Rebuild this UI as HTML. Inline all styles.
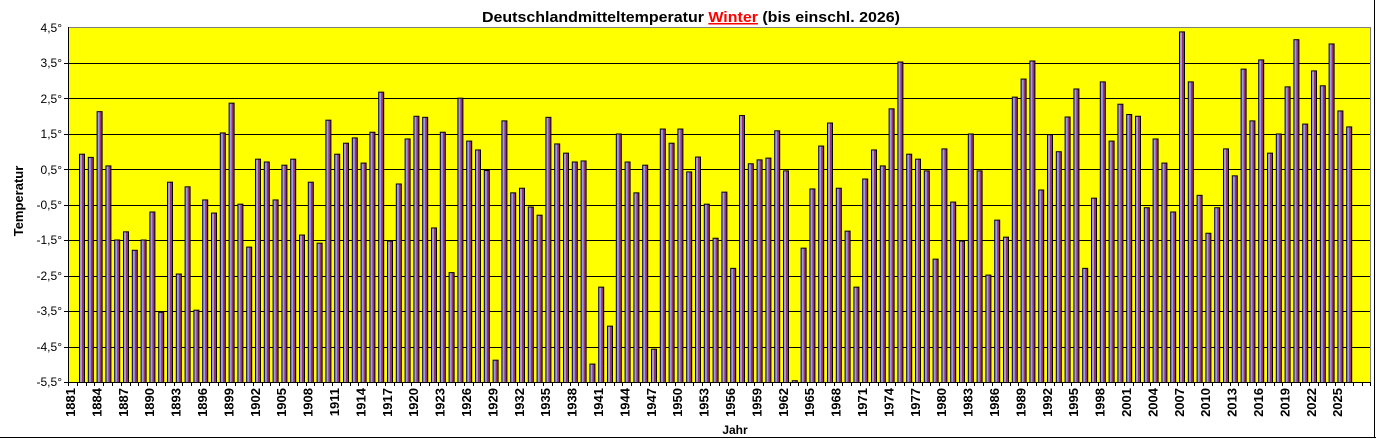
<!DOCTYPE html>
<html><head><meta charset="utf-8"><style>
html,body{margin:0;padding:0;background:#fff;}
svg{display:block;font-family:"Liberation Sans",Arial,sans-serif;}
</style></head><body>
<svg id="c" width="1376" height="439" viewBox="0 0 1376 439" xmlns="http://www.w3.org/2000/svg">
<defs><linearGradient id="g" x1="0" x2="1" y1="0" y2="0">
<stop offset="0" stop-color="#9999ff"/><stop offset="0.45" stop-color="#9999ff"/><stop offset="0.55" stop-color="#993366"/><stop offset="1" stop-color="#993366"/></linearGradient></defs>
<rect x="68" y="27" width="1302" height="355" fill="#ffff00"/>
<g id="grid" stroke="#000" stroke-width="1"></g>
<line x1="68" y1="27.5" x2="1370" y2="27.5" stroke="#808080"/>
<line x1="1370.5" y1="27" x2="1370.5" y2="382" stroke="#808080"/>
<g id="bars"></g>
<line x1="68.5" y1="27" x2="68.5" y2="382" stroke="#000"/>
<line x1="64" y1="382.5" x2="1370" y2="382.5" stroke="#000"/>
<g id="ticks" stroke="#000"></g>
<g font-size="12" text-anchor="end" fill="#000">
<text x="62" y="32">4,5°</text>
<text x="62" y="67">3,5°</text>
<text x="62" y="103">2,5°</text>
<text x="62" y="138">1,5°</text>
<text x="62" y="174">0,5°</text>
<text x="62" y="209">-0,5°</text>
<text x="62" y="244">-1,5°</text>
<text x="62" y="280">-2,5°</text>
<text x="62" y="315">-3,5°</text>
<text x="62" y="351">-4,5°</text>
<text x="62" y="386">-5,5°</text>
</g>
<g id="xl" font-size="13" font-weight="bold" text-anchor="end">
<text transform="translate(75,388) rotate(-90)">1881</text>
<text transform="translate(101.4,388) rotate(-90)">1884</text>
<text transform="translate(127.8,388) rotate(-90)">1887</text>
<text transform="translate(154.2,388) rotate(-90)">1890</text>
<text transform="translate(180.6,388) rotate(-90)">1893</text>
<text transform="translate(207,388) rotate(-90)">1896</text>
<text transform="translate(233.4,388) rotate(-90)">1899</text>
<text transform="translate(259.8,388) rotate(-90)">1902</text>
<text transform="translate(286.2,388) rotate(-90)">1905</text>
<text transform="translate(312.6,388) rotate(-90)">1908</text>
<text transform="translate(339,388) rotate(-90)">1911</text>
<text transform="translate(365.4,388) rotate(-90)">1914</text>
<text transform="translate(391.8,388) rotate(-90)">1917</text>
<text transform="translate(418.2,388) rotate(-90)">1920</text>
<text transform="translate(444.6,388) rotate(-90)">1923</text>
<text transform="translate(471,388) rotate(-90)">1926</text>
<text transform="translate(497.4,388) rotate(-90)">1929</text>
<text transform="translate(523.8,388) rotate(-90)">1932</text>
<text transform="translate(550.2,388) rotate(-90)">1935</text>
<text transform="translate(576.6,388) rotate(-90)">1938</text>
<text transform="translate(603,388) rotate(-90)">1941</text>
<text transform="translate(629.4,388) rotate(-90)">1944</text>
<text transform="translate(655.8,388) rotate(-90)">1947</text>
<text transform="translate(682.2,388) rotate(-90)">1950</text>
<text transform="translate(708.6,388) rotate(-90)">1953</text>
<text transform="translate(735,388) rotate(-90)">1956</text>
<text transform="translate(761.4,388) rotate(-90)">1959</text>
<text transform="translate(787.8,388) rotate(-90)">1962</text>
<text transform="translate(814.2,388) rotate(-90)">1965</text>
<text transform="translate(840.6,388) rotate(-90)">1968</text>
<text transform="translate(867,388) rotate(-90)">1971</text>
<text transform="translate(893.4,388) rotate(-90)">1974</text>
<text transform="translate(919.8,388) rotate(-90)">1977</text>
<text transform="translate(946.2,388) rotate(-90)">1980</text>
<text transform="translate(972.6,388) rotate(-90)">1983</text>
<text transform="translate(999,388) rotate(-90)">1986</text>
<text transform="translate(1025.4,388) rotate(-90)">1989</text>
<text transform="translate(1051.8,388) rotate(-90)">1992</text>
<text transform="translate(1078.2,388) rotate(-90)">1995</text>
<text transform="translate(1104.6,388) rotate(-90)">1998</text>
<text transform="translate(1131,388) rotate(-90)">2001</text>
<text transform="translate(1157.4,388) rotate(-90)">2004</text>
<text transform="translate(1183.8,388) rotate(-90)">2007</text>
<text transform="translate(1210.2,388) rotate(-90)">2010</text>
<text transform="translate(1236.6,388) rotate(-90)">2013</text>
<text transform="translate(1263,388) rotate(-90)">2016</text>
<text transform="translate(1289.4,388) rotate(-90)">2019</text>
<text transform="translate(1315.8,388) rotate(-90)">2022</text>
<text transform="translate(1342.2,388) rotate(-90)">2025</text>
</g>
<text x="735" y="434" font-size="12" font-weight="bold" text-anchor="middle">Jahr</text>
<text transform="translate(23,201) rotate(-90)" font-size="13" font-weight="bold" text-anchor="middle">Temperatur</text>
<text x="482" y="22" font-size="15" font-weight="bold" textLength="418" lengthAdjust="spacingAndGlyphs">Deutschlandmitteltemperatur <tspan fill="#ff0000" text-decoration="underline">Winter</tspan> (bis einschl. 2026)</text>
<line x1="0" y1="437.5" x2="1376" y2="437.5" stroke="#000"/>
<line x1="1374.5" y1="0" x2="1374.5" y2="438" stroke="#000"/>
</svg>
<script>
var v=[0.94,0.85,2.14,0.61,-1.48,-1.25,-1.77,-1.48,-0.69,-3.52,0.15,-2.44,0.02,-3.46,-0.35,-0.72,1.54,2.38,-0.47,-1.68,0.80,0.72,-0.35,0.63,0.80,-1.34,0.15,-1.57,1.90,0.94,1.25,1.40,0.69,1.56,2.69,-1.51,0.10,
1.37,2.01,1.98,-1.14,1.56,-2.40,2.52,1.31,1.06,0.48,-4.87,1.88,-0.15,-0.02,-0.55,-0.78,1.98,1.23,0.97,0.72,0.75,-4.98,-2.81,-3.91,1.51,0.72,-0.15,0.63,-4.56,1.65,1.25,1.65,0.44,0.86,-0.47,-1.43,
-0.13,-2.28,2.03,0.67,0.78,0.83,1.60,0.47,-5.45,-1.71,-0.04,1.17,1.82,-0.02,-1.23,-2.81,0.24,1.06,0.61,2.22,3.54,0.94,0.80,0.47,-2.02,1.09,-0.41,-1.51,1.51,0.47,-2.47,-0.92,-1.40,2.55,3.06,3.57,
-0.07,1.49,1.01,1.99,2.78,-2.28,-0.30,2.98,1.31,2.35,2.06,2.01,-0.57,1.37,0.69,-0.69,4.39,2.98,-0.22,-1.29,-0.57,1.09,0.33,3.34,1.88,3.60,0.97,1.51,2.84,4.17,1.79,3.29,2.87,4.05,2.16,1.71];
var NS="http://www.w3.org/2000/svg";
function el(n,a,p){var e=document.createElementNS(NS,n);for(var k in a)e.setAttribute(k,a[k]);p.appendChild(e);return e;}
var Y=function(t){return 382-(t+5.5)*35.45;};
var gr=document.getElementById('grid');
for(var t=3.5;t>-5;t-=1){var y=Math.round(Y(t))+0.5;el('line',{x1:64,y1:y,x2:1370,y2:y},gr);}
var b=document.getElementById('bars');
for(var i=0;i<v.length;i++){var x=79+8.8*i,y=Y(v[i]);el('rect',{x:x+0.5,y:y+0.5,width:5,height:382-y,fill:'url(#g)',stroke:'#000','stroke-width':1},b);}
var tk=document.getElementById('ticks');
for(var j=0;j<=148;j++){var x=Math.round(68+8.8*j)+0.5;el('line',{x1:x,y1:382,x2:x,y2:386},tk);}
</script>
</body></html>
